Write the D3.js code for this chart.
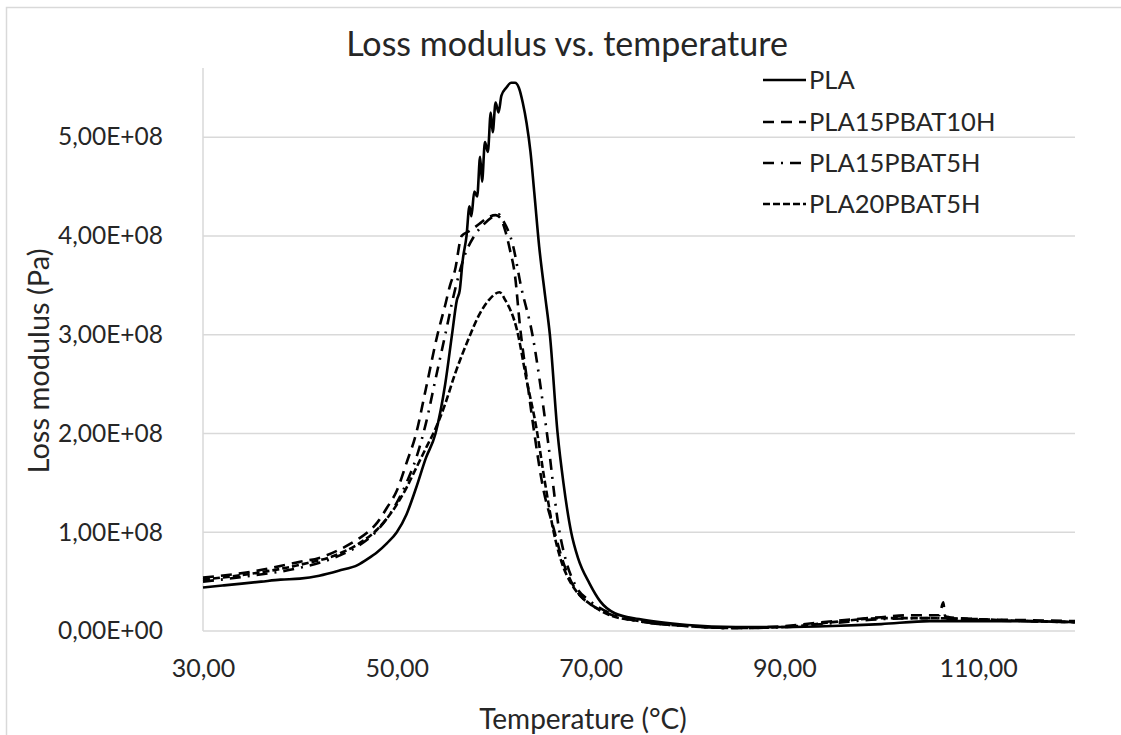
<!DOCTYPE html>
<html>
<head>
<meta charset="utf-8">
<script src="https://cdn.jsdelivr.net/npm/d3@7"></script>
<style>
  html, body { margin: 0; padding: 0; background: #fff; }
  svg { display: block; font-family: Lato, "Open Sans", sans-serif; }
</style>
</head>
<body>
<svg id="chart" width="1121" height="735"></svg>
<script>
// ---- data (temperature °C, loss modulus in units of 1e8 Pa) ----
const seriesNames = ["PLA", "PLA15PBAT10H", "PLA15PBAT5H", "PLA20PBAT5H"];
const xTicks = [30, 50, 70, 90, 110];
const yTicks = [0, 1e8, 2e8, 3e8, 4e8, 5e8];

const plaT = [30,32,34,36,38,40,42,44,46,47,48,49,50,51,52,53,54,55,55.7,56.2,56.5,56.8,57.2,57.5,57.7,58.0,58.3,58.6,58.8,59.1,59.4,59.7,59.9,60.2,60.5,60.8,61.3,61.8,62.2,62.6,63.0,63.4,63.8,64.2,64.7,65.3,65.8,66.6,67.2,68,68.7,69.9,71,72.5,75,80,85,90,95,100,105,110,115,120];
const plaE = [0.44,0.46,0.48,0.50,0.52,0.53,0.56,0.61,0.67,0.73,0.80,0.89,1.00,1.18,1.45,1.75,2.00,2.50,3.00,3.35,3.45,3.75,4.00,4.30,4.20,4.45,4.40,4.80,4.55,4.95,4.85,5.25,5.05,5.35,5.25,5.42,5.50,5.55,5.55,5.50,5.35,5.14,4.85,4.43,3.89,3.40,3.00,2.00,1.50,1.00,0.74,0.48,0.30,0.18,0.12,0.06,0.04,0.04,0.05,0.07,0.10,0.10,0.10,0.09];

const p10T = [30,35,40,42,44,46,47,48,49,50,51,52,53,54.2,55,55.5,56,56.7,57.5,58.5,59.3,60.2,60.7,61.2,61.7,62.2,62.7,63.5,64.2,65,66.3,67,68,69,70,72,75,80,85,90,95,100,103,106,106.4,106.6,107,110,115,120];
const p10E = [0.54,0.60,0.70,0.74,0.82,0.93,1.00,1.10,1.25,1.42,1.70,2.00,2.45,3.00,3.30,3.50,3.65,4.00,4.05,4.12,4.18,4.21,4.18,4.05,3.85,3.60,3.10,2.50,2.00,1.50,1.00,0.75,0.50,0.35,0.27,0.17,0.10,0.05,0.03,0.05,0.10,0.14,0.16,0.16,0.29,0.15,0.14,0.12,0.11,0.10];

const p5T = [30,35,40,44,46,48,50,51,52,53,54,55,56,57,58,59,60,60.5,61,62,62.8,64.0,65.5,66.8,67.5,68.5,70,72,75,80,85,90,95,100,105,110,115,120];
const p5E = [0.50,0.56,0.64,0.76,0.86,1.02,1.30,1.50,1.75,2.10,2.55,3.00,3.45,3.80,4.00,4.12,4.20,4.22,4.15,3.90,3.50,3.00,2.00,1.00,0.70,0.45,0.30,0.18,0.10,0.05,0.03,0.04,0.08,0.12,0.13,0.11,0.10,0.09];

const p20T = [30,35,40,44,46,48,50,51,52,53,54,55,56,57.5,58.5,59.5,60.6,61.2,62.4,63.4,64.4,65.3,66.2,67,68,69,70,72,75,80,85,90,95,100,105,110,115,120];
const p20E = [0.52,0.58,0.67,0.78,0.88,1.03,1.28,1.45,1.65,1.85,2.05,2.30,2.60,2.98,3.20,3.35,3.43,3.35,3.05,2.54,2.06,1.50,1.00,0.70,0.48,0.35,0.27,0.16,0.10,0.05,0.03,0.04,0.09,0.13,0.13,0.12,0.10,0.09];

const seriesT = [plaT, p10T, p5T, p20T];
const seriesE = [plaE, p10E, p5E, p20E];
const dashes = [null, "11,7", "11,7,2,7", "7,3"];

// ---- layout ----
const svg = d3.select("#chart");
const L = 203, R = 1075, T = 68, B = 631;
const x = d3.scaleLinear().domain([30, 120]).range([L, R]);
const y = d3.scaleLinear().domain([0, 5.7e8]).range([B, T]);
const gridColor = "#d9d9d9";
const textColor = "#262626";

// outer border (cropped)
svg.append("path").attr("d", "M6.5,735 V7.5 H1121")
  .attr("fill", "none").attr("stroke", gridColor).attr("stroke-width", 1.5);

// gridlines
svg.append("g").selectAll("line").data(yTicks.slice(1)).join("line")
  .attr("x1", L).attr("x2", R)
  .attr("y1", d => y(d)).attr("y2", d => y(d))
  .attr("stroke", gridColor).attr("stroke-width", 1.5);

// axes lines
svg.append("line").attr("x1", L).attr("x2", R).attr("y1", B).attr("y2", B)
  .attr("stroke", gridColor).attr("stroke-width", 1.5);
svg.append("line").attr("x1", L).attr("x2", L).attr("y1", T).attr("y2", B)
  .attr("stroke", gridColor).attr("stroke-width", 1.5);

const fmtY = d => {
  const m = d / 1e8;
  return m.toFixed(2).replace(".", ",") + "E+" + (d === 0 ? "00" : "08");
};
const fmtX = d => d.toFixed(2).replace(".", ",");

// y axis
const yAxis = svg.append("g").attr("transform", `translate(${L},0)`)
  .call(d3.axisLeft(y).tickValues(yTicks).tickFormat(fmtY).tickSize(0).tickPadding(40));
yAxis.select(".domain").remove();
yAxis.selectAll("text").attr("font-size", 24.5).attr("fill", textColor)
  .attr("font-family", "Lato, sans-serif");

// x axis
const xAxis = svg.append("g").attr("transform", `translate(0,${B})`)
  .call(d3.axisBottom(x).tickValues(xTicks).tickFormat(fmtX).tickSize(0).tickPadding(28));
xAxis.select(".domain").remove();
xAxis.selectAll("text").attr("font-size", 25).attr("fill", textColor)
  .attr("font-family", "Lato, sans-serif");

// series
const line = d3.line().x(d => x(d[0])).y(d => y(d[1] * 1e8)).curve(d3.curveMonotoneX);
seriesNames.forEach((name, i) => {
  const pts = seriesT[i].map((t, j) => [t, seriesE[i][j]]);
  svg.append("path").datum(pts)
    .attr("d", line)
    .attr("fill", "none")
    .attr("stroke", "#000")
    .attr("stroke-width", 2.6)
    .attr("stroke-linejoin", "round")
    .attr("stroke-dasharray", dashes[i]);
});

// title
svg.append("text").attr("x", 567).attr("y", 56).attr("text-anchor", "middle")
  .attr("font-size", 34).attr("fill", textColor).text("Loss modulus vs. temperature");

// axis titles
svg.append("text").attr("x", 583).attr("y", 729).attr("text-anchor", "middle")
  .attr("font-size", 28).attr("fill", textColor).text("Temperature (°C)");
svg.append("text").attr("transform", "translate(49,361) rotate(-90)")
  .attr("text-anchor", "middle")
  .attr("font-size", 29).attr("fill", textColor).text("Loss modulus (Pa)");

// legend
const legY = [80, 122, 163, 204];
const leg = svg.append("g");
seriesNames.forEach((name, i) => {
  leg.append("line").attr("x1", 763).attr("x2", 806)
    .attr("y1", legY[i]).attr("y2", legY[i])
    .attr("stroke", "#000").attr("stroke-width", 2.6)
    .attr("stroke-dasharray", dashes[i]);
  leg.append("text").attr("x", 809).attr("y", legY[i]).attr("dy", "0.35em")
    .attr("font-size", 25.5).attr("fill", textColor).text(name);
});
</script>
</body>
</html>
